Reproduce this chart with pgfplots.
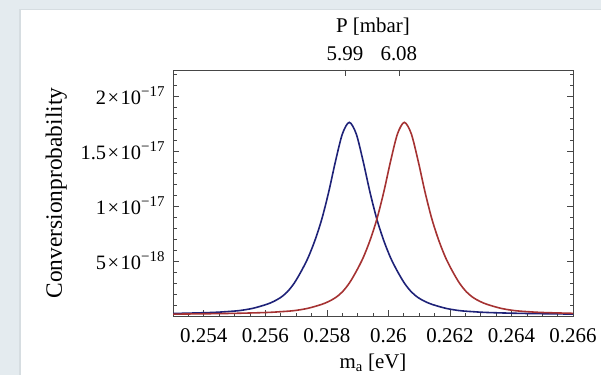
\documentclass[border=0pt]{standalone}
\usepackage{pgfplots}
\pgfplotsset{compat=1.18}
\usepackage{fontspec}
\setmainfont{Liberation Serif}
\definecolor{bgcol}{RGB}{228,235,239}
\definecolor{edgecol}{RGB}{214,221,225}
\definecolor{cblue}{RGB}{30,34,120}
\definecolor{cred}{RGB}{165,50,50}
\definecolor{framecol}{RGB}{70,70,70}
\newcommand{\lbl}{\fontsize{21}{24}\selectfont}
\newcommand{\ylbl}{\fontsize{20.5}{23}\selectfont}
\newcommand{\ex}[1]{\raisebox{0.85ex}{\fontsize{15}{16}\selectfont #1}}
\newcommand{\tms}{\hspace{1.5bp}×\hspace{1.5bp}}
\begin{document}
\begin{tikzpicture}[x=1bp,y=1bp]
\useasboundingbox (0,0) rectangle (601,375);
\fill[bgcol] (0,0) rectangle (601,375);
\fill[edgecol] (19,0) rectangle (601,366);
\fill[white] (21,0) rectangle (601,364.5);
\begin{axis}[
  at={(173bp,59bp)}, anchor=south west,
  width=400bp, height=246bp, scale only axis,
  xmin=0.253, xmax=0.266, ymin=0, ymax=22.36,
  axis line style={framecol, line width=0.8pt},
  every tick/.style={framecol, line width=0.6pt},
  major tick length=6bp, minor tick length=3.5bp,
  xtick pos=lower, ytick pos=both,
  xtick={0.254,0.256,0.258,0.26,0.262,0.264,0.266},
  xticklabels={0.254,0.256,0.258,0.26,0.262,0.264,0.266},
  minor xtick={0.2530,0.2535,...,0.2661},
  ytick={5,10,15,20},
  yticklabels={5\tms10\ex{−18},1\tms10\ex{−17},1.5\tms10\ex{−17},2\tms10\ex{−17}},
  minor ytick={1,2,...,22},
  xticklabel style={font=\lbl, yshift=-9bp},
  yticklabel style={font=\ylbl, xshift=-5bp},
  xlabel={m\textsubscript{a} [eV]},
  ylabel={Conversionprobability},
  every axis x label/.style={at={(axis description cs:0.5,-0.19)}, anchor=center, font=\lbl},
  every axis y label/.style={at={(axis description cs:-0.292,0.5)}, rotate=90, anchor=center, font=\fontsize{23.5}{26}\selectfont},
]
\addplot[cblue, line width=1.6pt, smooth] coordinates {
(0.25300,0.235) (0.25336,0.25) (0.254255,0.32) (0.254702,0.39) (0.25515,0.49)
(0.255597,0.70) (0.256045,1.06) (0.256269,1.32) (0.256492,1.67) (0.256716,2.20)
(0.25694,2.99) (0.257164,4.05) (0.257387,5.28) (0.257611,6.86) (0.257835,8.80)
(0.258059,11.26) (0.258282,14.08) (0.258506,16.56) (0.25873,17.6) (0.258954,16.56)
(0.259178,14.08) (0.259401,11.26) (0.259625,8.80) (0.259849,6.86) (0.260073,5.28)
(0.260296,4.05) (0.26052,2.99) (0.260744,2.20) (0.260968,1.67) (0.261191,1.32)
(0.261415,1.06) (0.261863,0.70) (0.26231,0.49) (0.262758,0.39) (0.263205,0.32)
(0.2641,0.25) (0.264995,0.21) (0.26589,0.18) (0.266,0.18)
};
\addplot[cred, line width=1.6pt, smooth] coordinates {
(0.25300,0.17) (0.25336,0.18) (0.254255,0.21) (0.25515,0.25) (0.256045,0.32)
(0.256492,0.39) (0.25694,0.49) (0.257387,0.70) (0.257835,1.06) (0.258059,1.32)
(0.258282,1.67) (0.258506,2.20) (0.25873,2.99) (0.258954,4.05) (0.259177,5.28)
(0.259401,6.86) (0.259625,8.80) (0.259849,11.26) (0.260072,14.08) (0.260296,16.56)
(0.26052,17.6) (0.260744,16.56) (0.260968,14.08) (0.261191,11.26) (0.261415,8.80)
(0.261639,6.86) (0.261863,5.28) (0.262086,4.05) (0.26231,2.99) (0.262534,2.20)
(0.262758,1.67) (0.262981,1.32) (0.263205,1.06) (0.263653,0.70) (0.2641,0.49)
(0.264548,0.39) (0.264995,0.32) (0.26589,0.25) (0.266,0.245)
};
\end{axis}
\begin{axis}[
  at={(173bp,59bp)}, anchor=south west,
  width=400bp, height=246bp, scale only axis,
  xmin=0.253, xmax=0.266, ymin=0, ymax=22.36,
  axis x line*=top, hide y axis,
  axis line style={framecol, line width=0.8pt},
  every tick/.style={framecol, line width=0.6pt},
  major tick length=6bp,
  xtick={0.25859,0.26034},
  xticklabels={5.99,6.08},
  xticklabel style={font=\lbl, yshift=6bp},
  xlabel={P [mbar]},
  every axis x label/.style={at={(axis description cs:0.5,1.175)}, anchor=center, font=\lbl},
]
\end{axis}
\end{tikzpicture}
\end{document}
